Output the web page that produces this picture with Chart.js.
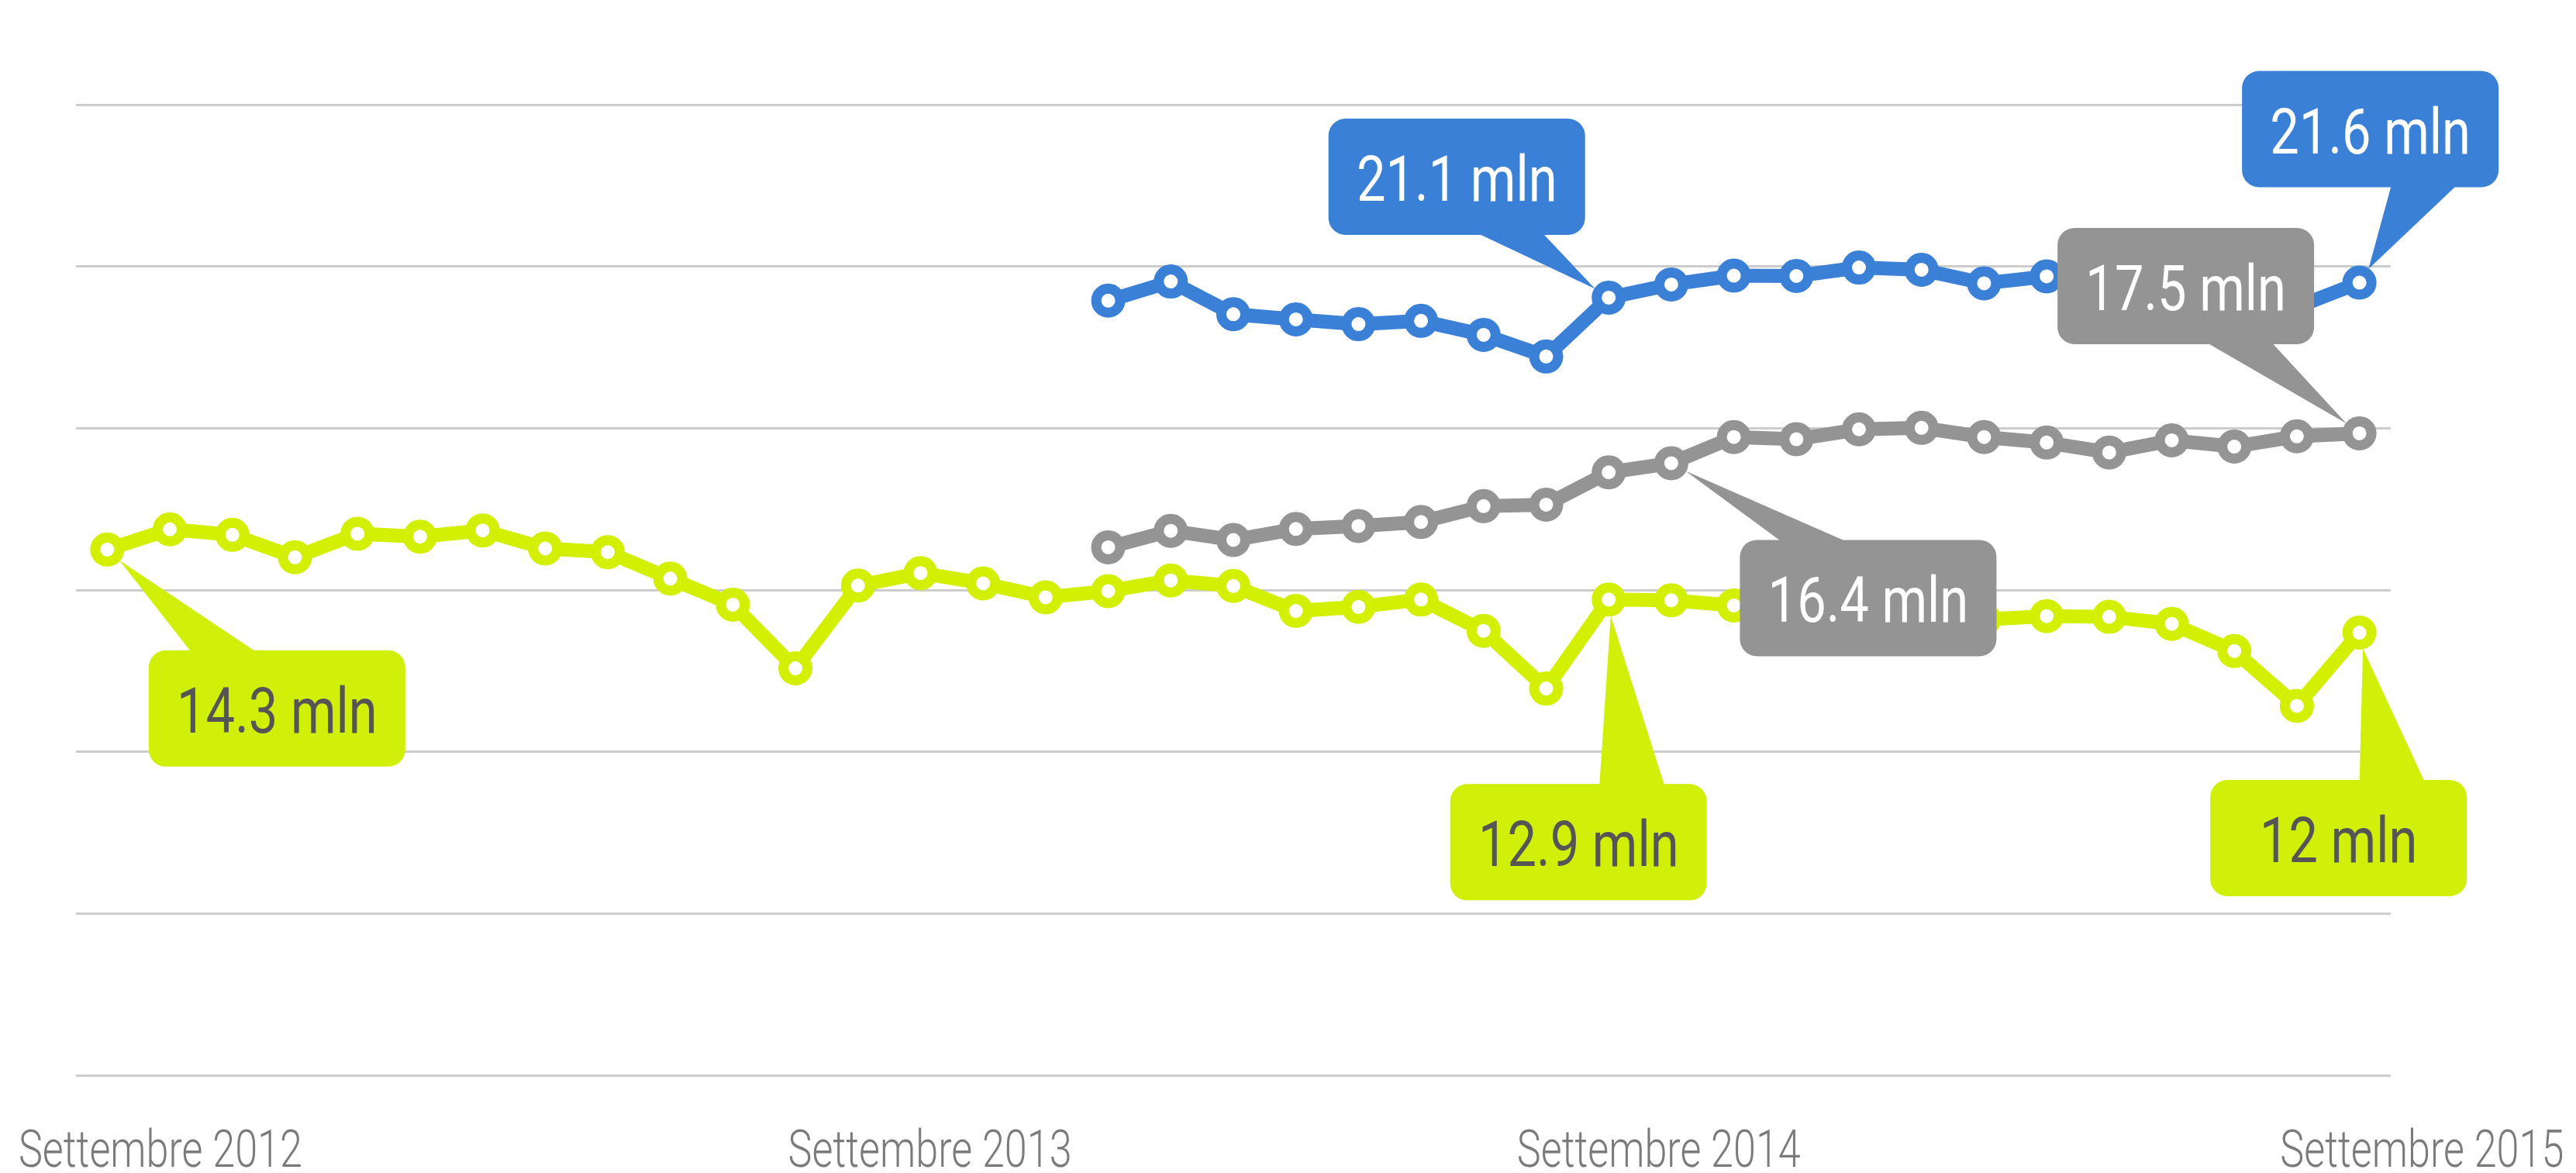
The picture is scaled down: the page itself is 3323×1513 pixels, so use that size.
<!DOCTYPE html>
<html>
<head>
<meta charset="utf-8">
<script src="https://cdn.jsdelivr.net/npm/chart.js@4.4.1/dist/chart.umd.min.js"></script>
<style>
  html, body { margin: 0; padding: 0; background: #ffffff; overflow: hidden; }
  #wrap { width: 3323px; height: 1513px; }
</style>
</head>
<body>
<div id="wrap"><canvas id="lineChart" width="3323" height="1513"></canvas></div>
<script>
// months, Settembre 2012 -> Settembre 2015
const months = [
    'Set 2012', 'Ott 2012', 'Nov 2012', 'Dic 2012', 'Gen 2013', 'Feb 2013', 'Mar 2013', 'Apr 2013',
    'Mag 2013', 'Giu 2013', 'Lug 2013', 'Ago 2013', 'Set 2013', 'Ott 2013', 'Nov 2013', 'Dic 2013',
    'Gen 2014', 'Feb 2014', 'Mar 2014', 'Apr 2014', 'Mag 2014', 'Giu 2014', 'Lug 2014', 'Ago 2014',
    'Set 2014', 'Ott 2014', 'Nov 2014', 'Dic 2014', 'Gen 2015', 'Feb 2015', 'Mar 2015', 'Apr 2015',
    'Mag 2015', 'Giu 2015', 'Lug 2015', 'Ago 2015', 'Set 2015'
];

// values in millions
const greenValues = [
    14.30, 14.85, 14.70, 14.09, 14.73, 14.65, 14.82, 14.33, 14.23, 13.51,
    12.80, 11.07, 13.32, 13.66, 13.38, 13.00, 13.17, 13.46, 13.31, 12.63,
    12.74, 12.94, 12.09, 10.52, 12.94, 12.92, 12.78, 12.70, 12.60, 12.50,
    12.40, 12.49, 12.47, 12.28, 11.54, 10.05, 12.04
];
const blueValues = [
    null, null, null, null, null, null, null, null, null, null, null, null, null, null, null, null,
    21.07, 21.59, 20.70, 20.56, 20.43, 20.52, 20.14, 19.55, 21.15, 21.51,
    21.75, 21.74, 21.97, 21.91, 21.54, 21.73, 21.60, 21.40, 21.20, 20.90, 21.56
];
const grayValues = [
    null, null, null, null, null, null, null, null, null, null, null, null, null, null, null, null,
    14.36, 14.81, 14.56, 14.86, 14.94, 15.05, 15.48, 15.52, 16.40, 16.65,
    17.36, 17.30, 17.57, 17.61, 17.36, 17.21, 16.94, 17.27, 17.10, 17.38, 17.46
];

// x axis labels and where they sit (in month steps)
const tickLabels = ['Settembre 2012', 'Settembre 2013', 'Settembre 2014', 'Settembre 2015'];
const tickPositions = [0.85, 13.15, 24.8, 37.0];

const BLUE = '#3a80d6';
const GRAY = '#949494';
const GREEN = '#d3ef02';
const GREEN_BOX = '#d0f00a';

// callout boxes: dataset index, point index, text, box offset from the point
const callouts = [
    { ds: 0, i: 0,  text: '14.3 mln', dx: 219,  dy: 205,  shift: -69, fill: GREEN_BOX, color: '#555555' },
    { ds: 1, i: 24, text: '21.1 mln', dx: -196, dy: -156, shift: 69,  fill: BLUE, color: '#ffffff' },
    { ds: 1, i: 36, text: '21.6 mln', dx: 14,   dy: -198, shift: 69,  fill: BLUE, color: '#ffffff' },
    { ds: 2, i: 36, text: '17.5 mln', dx: -224, dy: -190, shift: 69,  fill: GRAY, color: '#ffffff' },
    { ds: 2, i: 25, text: '16.4 mln', dx: 254,  dy: 174,  shift: -70, fill: GRAY, color: '#ffffff' },
    { ds: 0, i: 24, text: '12.9 mln', dx: -39,  dy: 313,  shift: 69,  fill: GREEN_BOX, color: '#555555' },
    { ds: 0, i: 36, text: '12 mln',   dx: -27,  dy: 265,  shift: 69,  fill: GREEN_BOX, color: '#555555' }
];

function condensedText(ctx, text, x, y, font, color, squeeze) {
    ctx.save();
    ctx.translate(x, y);
    ctx.scale(squeeze, 1);
    ctx.font = font;
    ctx.fillStyle = color;
    ctx.textAlign = 'center';
    ctx.textBaseline = 'alphabetic';
    ctx.fillText(text, 0, 0);
    ctx.restore();
}

const calloutPlugin = {
    id: 'callouts',
    afterDatasetsDraw(chart) {
        const ctx = chart.ctx;
        const boxW = 331, boxH = 150, baseW = 84, radius = 22;
        callouts.forEach(c => {
            const pt = chart.getDatasetMeta(c.ds).data[c.i];
            const cx = pt.x + c.dx;
            const cy = pt.y + c.dy;
            const top = cy - boxH / 2;
            const bottom = cy + boxH / 2;
            const baseY = c.dy > 0 ? top + 2 : bottom - 2;
            const baseX = cx + c.shift;
            const vx = baseX - pt.x, vy = baseY - pt.y;
            const len = Math.sqrt(vx * vx + vy * vy);
            const tipX = pt.x + vx / len * 21;
            const tipY = pt.y + vy / len * 21;

            ctx.save();
            ctx.fillStyle = c.fill;
            ctx.beginPath();
            ctx.moveTo(baseX - baseW / 2, baseY);
            ctx.lineTo(tipX, tipY);
            ctx.lineTo(baseX + baseW / 2, baseY);
            ctx.closePath();
            ctx.fill();
            ctx.beginPath();
            ctx.roundRect(cx - boxW / 2, top, boxW, boxH, radius);
            ctx.fill();
            ctx.restore();

            condensedText(ctx, c.text, cx, cy + 31, '400 82px Roboto', c.color, 0.815);
        });
    },
    afterDraw(chart) {
        const ctx = chart.ctx;
        const xScale = chart.scales.x;
        tickLabels.forEach((t, k) => {
            const x = xScale.getPixelForValue(tickPositions[k]);
            condensedText(ctx, t, x, 1505, '300 66px Roboto', '#7b7b7b', 0.79);
        });
    }
};

const ctx = document.getElementById('lineChart').getContext('2d');

function lineSet(label, values, color) {
    return {
        label: label,
        data: values,
        borderColor: color,
        backgroundColor: '#ffffff',
        borderWidth: 18,
        pointRadius: 15.5,
        pointBorderWidth: 13,
        pointBackgroundColor: '#ffffff',
        pointBorderColor: color,
        tension: 0,
        spanGaps: false
    };
}

const lineChart = new Chart(ctx, {
    type: 'line',
    data: {
        labels: months,
        datasets: [
            lineSet('Verde', greenValues, GREEN),
            lineSet('Blu', blueValues, BLUE),
            lineSet('Grigio', grayValues, GRAY)
        ]
    },
    options: {
        responsive: false,
        animation: false,
        devicePixelRatio: 1,
        layout: {
            padding: { left: 98, right: 239, top: 135, bottom: 126 }
        },
        plugins: {
            legend: { display: false },
            tooltip: { enabled: false }
        },
        scales: {
            x: {
                display: false,
                offset: true
            },
            y: {
                min: 0,
                max: 26.4,
                ticks: { display: false, stepSize: 4.4 },
                border: { display: false },
                grid: {
                    drawTicks: false,
                    color: '#cdcdcd',
                    lineWidth: 3
                }
            }
        }
    },
    plugins: [calloutPlugin]
});
</script>
</body>
</html>
